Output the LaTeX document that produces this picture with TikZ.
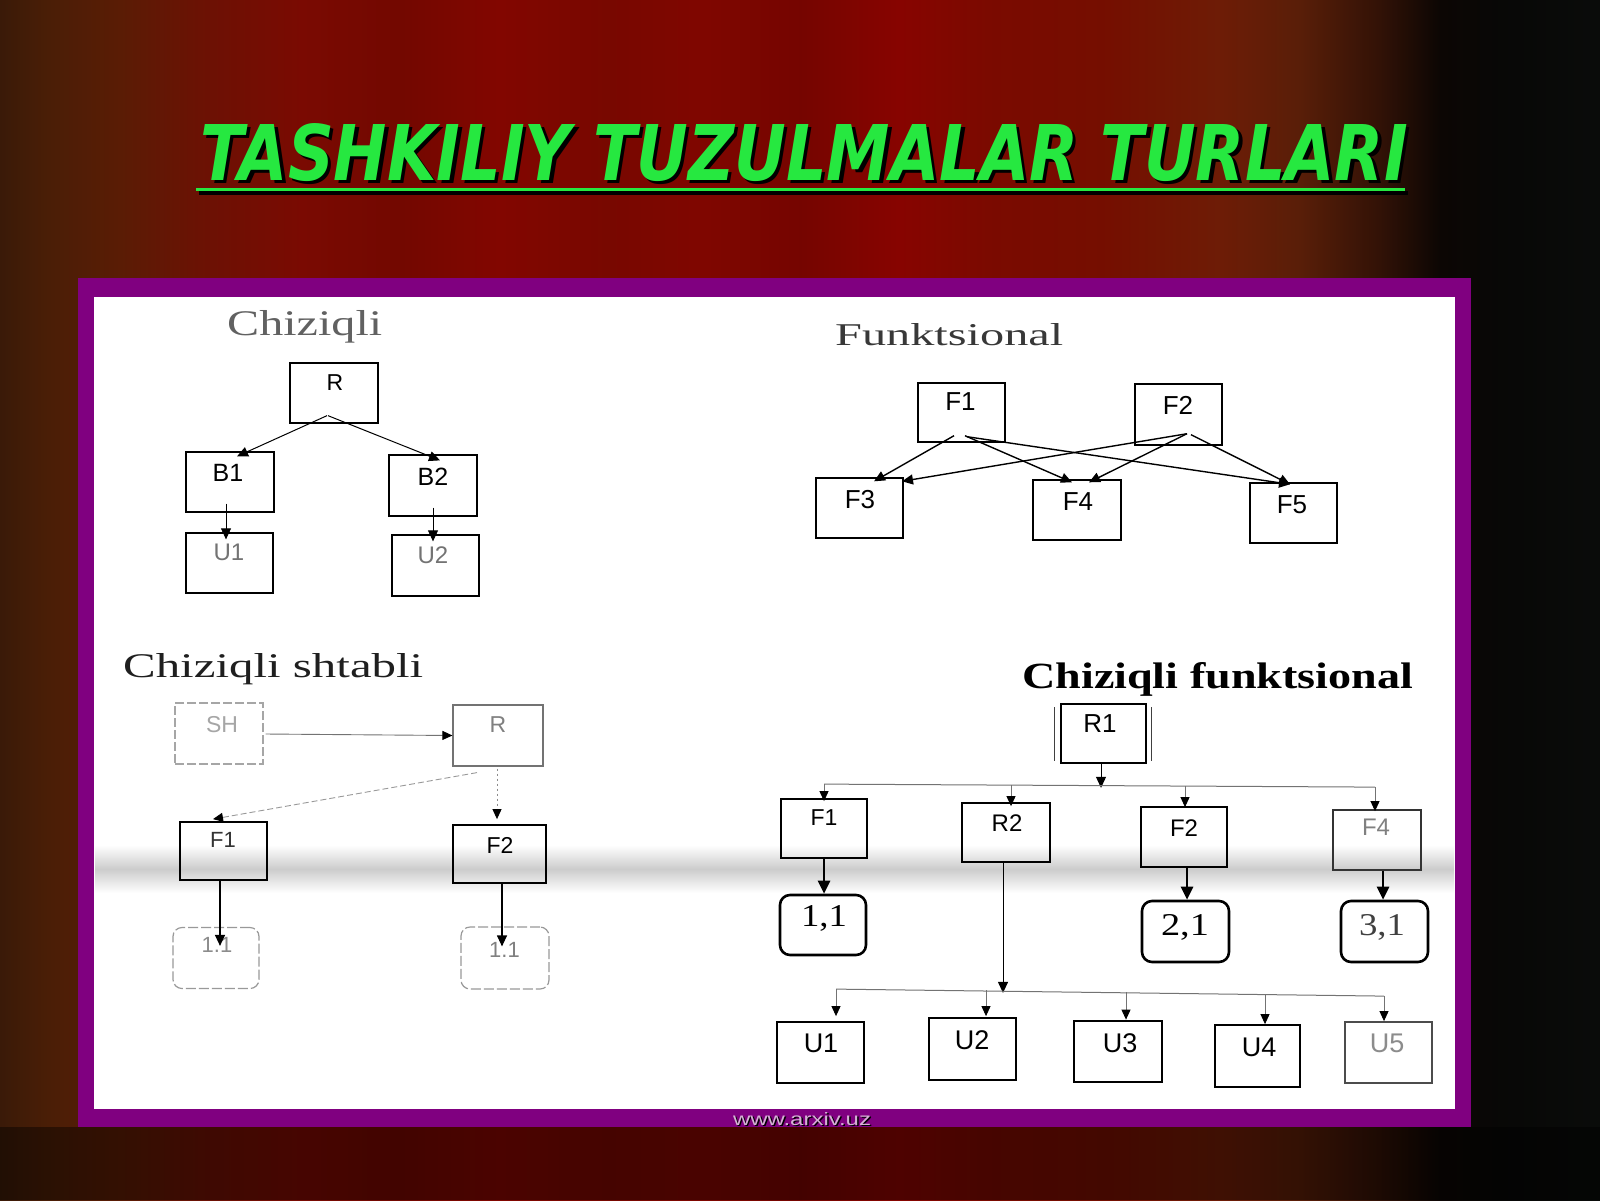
\documentclass[tikz,border=0pt]{standalone}
\usepackage{fontspec}
\usepackage{graphicx}
\setmainfont{Liberation Serif}
\setsansfont{Liberation Sans}
\newfontfamily\titlefont{DejaVu Sans}
\usetikzlibrary{arrows.meta,calc}
\definecolor{ttgreen}{RGB}{38,232,64}
\definecolor{frpurple}{RGB}{128,0,128}
\definecolor{wmark}{RGB}{214,178,214}
\newcommand\lf[1]{\sffamily\fontsize{#1}{#1}\selectfont}
\pgfdeclarehorizontalshading{curtain}{100bp}{%
rgb(0bp)=(0.227,0.102,0.031);
rgb(25bp)=(0.227,0.102,0.031);
rgb(26.5bp)=(0.29,0.118,0.024);
rgb(28.75bp)=(0.353,0.11,0.02);
rgb(31.25bp)=(0.42,0.07,0.016);
rgb(34.4bp)=(0.478,0.04,0.008);
rgb(37.5bp)=(0.45,0.03,0.0);
rgb(40.6bp)=(0.51,0.024,0);
rgb(44bp)=(0.47,0.03,0);
rgb(46.9bp)=(0.50,0.024,0);
rgb(50bp)=(0.46,0.02,0);
rgb(53.1bp)=(0.53,0.016,0);
rgb(56bp)=(0.48,0.04,0);
rgb(59.4bp)=(0.46,0.055,0);
rgb(63.1bp)=(0.43,0.11,0.024);
rgb(65.6bp)=(0.35,0.118,0.031);
rgb(68.1bp)=(0.196,0.07,0.024);
rgb(70bp)=(0.047,0.024,0.016);
rgb(72bp)=(0.03,0.03,0.025);
rgb(75bp)=(0.04,0.047,0.04);
rgb(100bp)=(0.04,0.047,0.04)}
\begin{document}
\begin{tikzpicture}[x=1pt,y=-1pt,
  bx/.style={draw=black,line width=1.4pt,inner sep=0pt,rectangle},
  lab/.style={anchor=center,inner sep=0pt},
  arr/.style={-{Triangle[length=11pt,width=10pt]},line width=1pt},
  tharr/.style={-{Triangle[length=13pt,width=12pt]},line width=2.6pt},
  rbx/.style={draw=black,line width=2.6pt,rounded corners=10pt,inner sep=0pt,rectangle},
  hd/.style={anchor=base west,inner sep=0pt},
  bus/.style={draw=black!55,line width=1pt},
  garr/.style={-{Triangle[length=10pt,width=9pt,color=black]},line width=0.9pt,draw=black!55},
]
\useasboundingbox (0,0) rectangle (1600,1200);
% background curtain
\shade[shading=curtain] (0,0) rectangle (1600,1200);
\fill[black,opacity=0.42] (0,1127) rectangle (1600,1200);
% title
\node[anchor=base west,inner sep=0pt,text=black] (titlesh) at (203.5,183.5) {\resizebox{1207pt}{57pt}{\titlefont\bfseries\itshape TASHKILIY TUZULMALAR TURLARI}};
\node[anchor=base west,inner sep=0pt,text=ttgreen] (title) at (200,180) {\resizebox{1207pt}{57pt}{\titlefont\bfseries\itshape TASHKILIY TUZULMALAR TURLARI}};
\draw[line width=3.5pt,black] (199,193) -- (1408,193);
\draw[line width=3.5pt,ttgreen] (196,189.5) -- (1405,189.5);
% frame
\fill[frpurple] (78,278) rectangle (1471,1127);
\fill[white] (94,297) rectangle (1455,1109);
% scan fold band
\shade[top color=white,bottom color=white,middle color=black!20] (95,845) rectangle (1454,893);

% ---------- Chiziqli ----------
\node[hd,text=black!62] (h1) at (227,335) {\resizebox{155pt}{25pt}{Chiziqli}};
\node[bx,line width=1.3pt,minimum width=88pt,minimum height=60pt] (aR) at (334,393) {};
\node[lab,font=\lf{23}] (aRt) at (335,383) {R};
\node[bx,line width=1.3pt,minimum width=88pt,minimum height=60pt] (aB1) at (230,482) {};
\node[lab,font=\lf{25}] (aB1t) at (228,473) {B1};
\node[bx,line width=1.3pt,minimum width=88pt,minimum height=61pt] (aB2) at (433,485.5) {};
\node[lab,font=\lf{25}] (aB2t) at (433,477) {B2};
\node[bx,line width=1.3pt,minimum width=87pt,minimum height=60pt] (aU1) at (229.5,563) {};
\node[lab,font=\lf{24},text=black!55] (aU1t) at (229,552) {U1};
\node[bx,line width=1.3pt,minimum width=87pt,minimum height=61pt] (aU2) at (435.5,565.5) {};
\node[lab,font=\lf{24},text=black!55] (aU2t) at (433,555) {U2};
\draw[arr] ($(aR.south)+(-7,-8)$) -- ($(aB1.north)+(7,5)$);
\draw[arr] ($(aR.south)+(-6,-8)$) -- ($(aB2.north)+(7,6)$);
\draw[arr,line width=0.8pt] ($(aB1.south)+(-4,-9)$) -- ($(aU1.north)+(-3.5,7)$);
\draw[arr,line width=0.8pt] ($(aB2.south)+(0,-9)$) -- ($(aU2.north)+(-2.5,7)$);

% ---------- Funktsional ----------
\node[hd,text=black!78] (h2) at (835,345) {\resizebox{228pt}{22pt}{Funktsional}};
\node[bx,minimum width=87pt,minimum height=59pt] (bF1) at (961.5,412.5) {};
\node[lab,font=\lf{26}] (bF1t) at (960.5,402) {F1};
\node[bx,minimum width=87pt,minimum height=61pt] (bF2) at (1178.5,414.5) {};
\node[lab,font=\lf{26}] (bF2t) at (1178,405) {F2};
\node[bx,minimum width=87pt,minimum height=60pt] (bF3) at (859.5,508) {};
\node[lab,font=\lf{26}] (bF3t) at (860,500) {F3};
\node[bx,minimum width=88pt,minimum height=60pt] (bF4) at (1077,510) {};
\node[lab,font=\lf{26}] (bF4t) at (1078,502) {F4};
\node[bx,minimum width=87pt,minimum height=60pt] (bF5) at (1293.5,513) {};
\node[lab,font=\lf{26}] (bF5t) at (1292,505) {F5};
\draw[arr,line width=1.4pt] ($(bF1.south)+(-7.5,-7)$) -- ($(bF3.north)+(14.5,4)$);
\draw[arr,line width=1.4pt] ($(bF1.south)+(3.5,-7)$) -- ($(bF4.north)+(-5,3)$);
\draw[arr,line width=1.4pt] ($(bF1.south)+(5.5,-6)$) -- ($(bF5.north)+(-3.5,2)$);
\draw[arr,line width=1.4pt] ($(bF2.south)+(8.5,-12)$) -- ($(bF3.north)+(42.5,4)$);
\draw[arr,line width=1.4pt] ($(bF2.south)+(8.5,-12)$) -- ($(bF4.north)+(12,3)$);
\draw[arr,line width=1.4pt] ($(bF2.south)+(12.5,-11)$) -- ($(bF5.north)+(-3.5,2)$);

% ---------- Chiziqli shtabli ----------
\node[hd,text=black!88] (h3) at (123,677) {\resizebox{300pt}{24pt}{Chiziqli shtabli}};
\node[bx,draw=black!35,line width=1.2pt,dash pattern=on 9pt off 3pt,minimum width=88pt,minimum height=61pt] (cSH) at (219,733.5) {};
\node[lab,font=\lf{23},text=black!35] (cSHt) at (222,725) {SH};
\node[bx,draw=black!55,line width=1.2pt,minimum width=90pt,minimum height=61pt] (cR) at (498,735.5) {};
\node[lab,font=\lf{23},text=black!50] (cRt) at (498,725) {R};
\node[bx,line width=1.8pt,minimum width=87pt,minimum height=58pt] (cF1) at (223.5,851) {};
\node[lab,font=\lf{22},text=black!80] (cF1t) at (223,840) {F1};
\node[bx,line width=1.8pt,minimum width=93pt,minimum height=58pt] (cF2) at (499.5,854) {};
\node[lab,font=\lf{23}] (cF2t) at (500,845) {F2};
\node[bx,draw=black!40,line width=1.2pt,rounded corners=9pt,dash pattern=on 10pt off 3pt,minimum width=86pt,minimum height=61pt] (cL1) at (216,958) {};
\node[lab,font=\lf{22},text=black!45] (cL1t) at (217,945) {1.1};
\node[bx,draw=black!40,line width=1.2pt,rounded corners=9pt,dash pattern=on 10pt off 3pt,minimum width=88pt,minimum height=62pt] (cL2) at (505,958) {};
\node[lab,font=\lf{22},text=black!50] (cL2t) at (504.5,950) {1.1};
\draw[garr] ($(cSH.east)+(2,0.5)$) -- (cR.west);
\draw[garr,dash pattern=on 6pt off 3pt,draw=black!40] ($(cR.south)+(-21,6)$) -- ($(cF1.north)+(-10.5,-2)$);
\draw[garr,dash pattern=on 2pt off 3pt,draw=black!45] ($(cR.south)+(-1,2)$) -- ($(cF2.north)+(-2.5,-5)$);
\draw[arr,line width=1.2pt] ($(cF1.south)+(-3.5,0)$) -- ($(cL1.north)+(4,19)$);
\draw[arr,line width=1.2pt] ($(cF2.south)+(2.5,0)$) -- ($(cL2.north)+(-3,20)$);

% ---------- Chiziqli funktsional ----------
\node[hd] (h4) at (1022,688) {\resizebox{391pt}{26pt}{\bfseries Chiziqli funktsional}};
\node[bx,line width=1.6pt,minimum width=85pt,minimum height=59pt] (dR1) at (1103.5,733.5) {};
\node[lab,font=\lf{26}] (dR1t) at (1100,724) {R1};
\draw[line width=1.2pt,black!75] ($(dR1.north west)+(-6,4)$) -- ($(dR1.south west)+(-6,-3)$);
\draw[line width=1.2pt,black!75] ($(dR1.north east)+(5,4)$) -- ($(dR1.south east)+(5,-3)$);
\node[bx,line width=1.8pt,minimum width=86pt,minimum height=59pt] (dF1) at (824,828.5) {};
\node[lab,font=\lf{23}] (dF1t) at (824,818) {F1};
\node[bx,line width=1.8pt,minimum width=88pt,minimum height=59pt] (dR2) at (1006,832.5) {};
\node[lab,font=\lf{24}] (dR2t) at (1007,823) {R2};
\node[bx,line width=1.8pt,minimum width=86pt,minimum height=60pt] (dF2) at (1184,837) {};
\node[lab,font=\lf{24}] (dF2t) at (1184,828) {F2};
\node[bx,draw=black!80,line width=1.8pt,minimum width=88pt,minimum height=60pt] (dF4) at (1377,840) {};
\node[lab,font=\lf{24},text=black!50] (dF4t) at (1376,827) {F4};
\node[rbx,minimum width=86pt,minimum height=60pt] (d11) at (823,925) {};
\node[lab] (d11t) at (824,918) {\resizebox{46pt}{21pt}{1,1}};
\node[rbx,minimum width=87pt,minimum height=61pt] (d21) at (1185.5,931.5) {};
\node[lab] (d21t) at (1185,927) {\resizebox{48pt}{21pt}{2,1}};
\node[rbx,minimum width=87pt,minimum height=61pt] (d31) at (1384.5,931.5) {};
\node[lab,text=black!75] (d31t) at (1382,927) {\resizebox{46pt}{21pt}{3,1}};
\node[bx,line width=1.8pt,minimum width=87pt,minimum height=61pt] (dU1) at (820.5,1052.5) {};
\node[lab,font=\lf{27}] (dU1t) at (821,1043) {U1};
\node[bx,line width=1.8pt,minimum width=87pt,minimum height=62pt] (dU2) at (972.5,1049) {};
\node[lab,font=\lf{27}] (dU2t) at (972,1040) {U2};
\node[bx,line width=1.8pt,minimum width=88pt,minimum height=61pt] (dU3) at (1118,1051.5) {};
\node[lab,font=\lf{27}] (dU3t) at (1120,1043) {U3};
\node[bx,line width=1.8pt,minimum width=85pt,minimum height=62pt] (dU4) at (1257.5,1056) {};
\node[lab,font=\lf{27}] (dU4t) at (1259,1047) {U4};
\node[bx,draw=black!70,line width=1.8pt,minimum width=87pt,minimum height=61pt] (dU5) at (1388.5,1052.5) {};
\node[lab,font=\lf{27},text=black!45] (dU5t) at (1387,1043) {U5};
% R1 to first bus
\draw[arr] ($(dR1.south)+(-2.5,0)$) -- ($(dR1.south)+(-2.5,24)$);
\draw[bus] ($(dF1.north)+(0,-14)$) -- ($(dF4.north)+(-2,-22)$);
\draw[garr] ($(dF1.north)+(0,-14)$) -- ($(dF1.north)+(0,3)$);
\draw[garr] ($(dR2.north)+(5,-17)$) -- ($(dR2.north)+(5,4)$);
\draw[garr] ($(dF2.north)+(1,-20)$) -- ($(dF2.north)+(1,1)$);
\draw[garr] ($(dF4.north)+(-2,-22)$) -- ($(dF4.north)+(-2,2)$);
\draw[tharr] ($(dF1.south)$) -- ($(d11.north)+(1,0)$);
\draw[tharr] ($(dF2.south)+(3,0)$) -- ($(d21.north)+(1.5,0)$);
\draw[tharr] ($(dF4.south)+(6,0)$) -- ($(d31.north)+(-1.5,0)$);
% R2 to second bus
\draw[arr] ($(dR2.south)+(-3,0)$) -- ($(dR2.south)+(-3,130)$);
\draw[bus] ($(dU1.north)+(15.5,-32)$) -- ($(dU5.north)+(-4.5,-25)$);
\draw[garr] ($(dU1.north)+(15.5,-32)$) -- ($(dU1.north)+(15.5,-5)$);
\draw[garr] ($(dU2.north)+(13.5,-27)$) -- ($(dU2.north)+(13.5,-1)$);
\draw[garr] ($(dU3.north)+(8,-28)$) -- ($(dU3.north)+(8,-0.5)$);
\draw[garr] ($(dU4.north)+(7.5,-30)$) -- ($(dU4.north)+(7.5,0)$);
\draw[garr] ($(dU5.north)+(-4.5,-25)$) -- ($(dU5.north)+(-4.5,0)$);

% watermark
\node[anchor=base,inner sep=0pt,text=black] (wmsh) at (803.5,1126.5) {\resizebox{138pt}{13pt}{\sffamily www.arxiv.uz}};
\node[anchor=base,inner sep=0pt,text=wmark] (wm) at (802,1125) {\resizebox{138pt}{13pt}{\sffamily www.arxiv.uz}};
\end{tikzpicture}
\end{document}
